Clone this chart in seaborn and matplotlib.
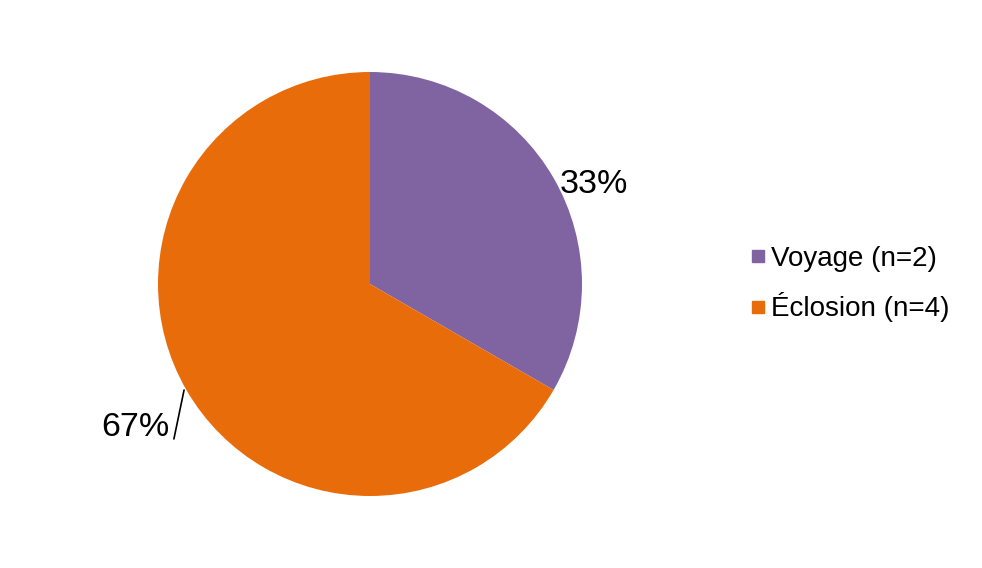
import matplotlib
matplotlib.use("Agg")
import matplotlib.pyplot as plt
from matplotlib.lines import Line2D
import seaborn as sns

# data
categories = ["Voyage (n=2)", "Éclosion (n=4)"]
counts = [2, 4]
colors = sns.color_palette(["#8064A2", "#E96C0A"])

sns.set_theme(style="white")
plt.rcParams["font.family"] = ["Liberation Sans", "DejaVu Sans"]

W, H = 982, 568
fig = plt.figure(figsize=(W / 100, H / 100), dpi=100)
# pie centred at (370, 284) px with radius 212 px
ax = fig.add_axes([158 / W, (H - 496) / H, 424 / W, 424 / H])

wedges, texts, autotexts = ax.pie(
    counts, colors=colors, startangle=90, counterclock=False,
    autopct="%1.0f%%", pctdistance=1.15,
    wedgeprops=dict(linewidth=0),
    textprops=dict(fontsize=24.5, color="black"),
)
ax.set_xlim(-1, 1)
ax.set_ylim(-1, 1)
ax.set_aspect("equal")
ax.axis("off")

# label positions (Excel-like placement)
autotexts[0].set_position((1.058, 0.467))
autotexts[1].set_position((-1.108, -0.679))
for t in autotexts:
    t.set_ha("center")
    t.set_va("center")
    t.set_clip_on(False)

# leader line for 67%
ax.add_line(Line2D([-0.925, -0.877], [-0.731, -0.500], color="black",
                   linewidth=1.2, clip_on=False))

handles = [Line2D([], [], marker="s", linestyle="none", markersize=9,
                  markerfacecolor=c, markeredgecolor=c) for c in colors]
fig.legend(handles, categories, loc="center left",
           bbox_to_anchor=(750 / W, (H - 284) / H), frameon=False,
           fontsize=20, handlelength=0.6, handletextpad=0.15,
           labelspacing=0.75, borderpad=0, borderaxespad=0,
           labelcolor="black")

fig.savefig("out.png", dpi=100)
